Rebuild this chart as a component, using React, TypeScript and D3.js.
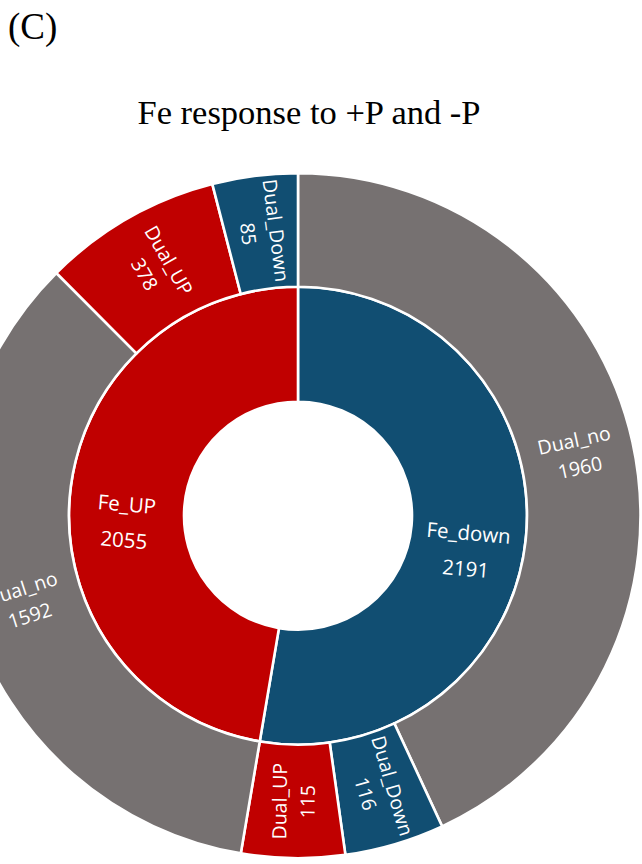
import React, { useEffect, useRef } from "react";
import * as d3 from "d3";

// ---- data ----
const panelLabel = "(C)";
const chartTitle = "Fe response to +P and -P";

const parentNames = ["Fe_down", "Fe_UP"];
const parentValues = [2191, 2055];

const feDownChildNames = ["Dual_no", "Dual_Down", "Dual_UP"];
const feDownChildValues = [1960, 116, 115];
// angular share each segment occupies in the picture
const feDownChildArcSize = [1960, 214, 222];

const feUpChildNames = ["Dual_no", "Dual_UP", "Dual_Down"];
const feUpChildValues = [1592, 378, 85];
const feUpChildArcSize = [1586, 384, 183];

// ---- styles ----
const colorFor: Record<string, string> = {
  Fe_down: "#114E72",
  Fe_UP: "#C00000",
  Dual_no: "#767171",
  Dual_Down: "#114E72",
  Dual_UP: "#C00000",
};

type Node = { name: string; value?: number; size?: number; children?: Node[] };

export default function App() {
  const ref = useRef<SVGSVGElement | null>(null);

  useEffect(() => {
    const svg = d3.select(ref.current);
    svg.selectAll("*").remove();

    const W = 642, H = 864;
    const cx = 298, cy = 515.7;

    svg.append("rect").attr("width", W).attr("height", H).attr("fill", "#fff");

    svg.append("text")
      .attr("x", 8).attr("y", 39)
      .attr("font-family", "'Liberation Serif', 'Times New Roman', serif")
      .attr("font-size", 37)
      .attr("fill", "#000")
      .text(panelLabel);

    svg.append("text")
      .attr("x", 309).attr("y", 124)
      .attr("text-anchor", "middle")
      .attr("font-family", "'Liberation Serif', 'Times New Roman', serif")
      .attr("font-size", 34.5)
      .attr("fill", "#000")
      .text(chartTitle);

    const childLists = [
      { names: feDownChildNames, values: feDownChildValues, sizes: feDownChildArcSize },
      { names: feUpChildNames, values: feUpChildValues, sizes: feUpChildArcSize },
    ];

    const rootData: Node = {
      name: "root",
      children: parentNames.map((p, i) => ({
        name: p,
        value: parentValues[i],
        children: childLists[i].names.map((n, j) => ({
          name: n,
          value: childLists[i].values[j],
          size: childLists[i].sizes[j],
        })),
      })),
    };

    const root = d3.hierarchy<Node>(rootData)
      .sum((d) => (d.children ? 0 : d.size || 0));

    d3.partition<Node>().size([2 * Math.PI, 3])(root);

    const radius = d3.scaleLinear().domain([1, 2, 3]).range([114, 229, 342.5]);

    const arc = d3.arc<any>()
      .startAngle((d) => d.x0)
      .endAngle((d) => d.x1)
      .innerRadius((d) => radius(d.y0))
      .outerRadius((d) => radius(d.y1));

    const g = svg.append("g").attr("transform", `translate(${cx},${cy})`);

    const nodes = root.descendants().filter((d) => d.depth > 0);

    g.selectAll("path")
      .data(nodes)
      .join("path")
      .attr("d", arc as any)
      .attr("fill", (d) => colorFor[d.data.name])
      .attr("stroke", "#fff")
      .attr("stroke-width", 2.6);

    const labelFont = "'Open Sans', 'Noto Sans', sans-serif";

    nodes.forEach((d: any) => {
      const mid = (d.x0 + d.x1) / 2;
      const deg = (mid * 180) / Math.PI;
      const rot = deg < 180 ? deg - 90 : deg - 270;
      const rMid = (radius(d.y0) + radius(d.y1)) / 2;
      const px = Math.sin(mid) * rMid;
      const py = -Math.cos(mid) * rMid;
      const inner = d.depth === 1;
      const fs = inner ? 20.5 : 19.5;
      const lh = inner ? 36 : 28;
      const tg = g.append("g").attr("transform", `translate(${px},${py}) rotate(${rot})`);
      const lines = [d.data.name, String(d.data.value)];
      const offset0 = inner ? 3 : -lh / 2;
      lines.forEach((t, k) => {
        tg.append("text")
          .attr("x", 0)
          .attr("y", offset0 + k * lh)
          .attr("dy", "0.35em")
          .attr("text-anchor", "middle")
          .attr("font-family", labelFont)
          .attr("font-size", fs)
          .attr("fill", "#fff")
          .text(t);
      });
    });
  }, []);

  return (
    <svg
      ref={ref}
      width={642}
      height={864}
      style={{ position: "absolute", left: 0, top: 0, display: "block" }}
    />
  );
}
